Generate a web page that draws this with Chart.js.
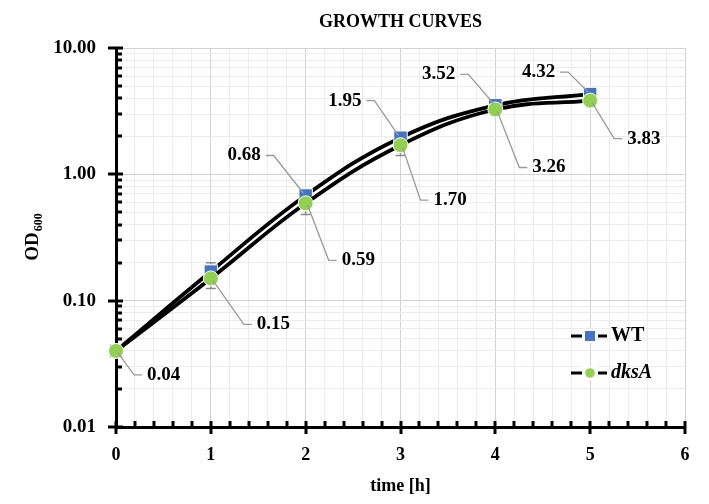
<!DOCTYPE html>
<html lang="en">
<head>
<meta charset="UTF-8">
<title>Growth curves</title>
<script src="https://cdn.jsdelivr.net/npm/chart.js"></script>
<style>
  html, body { margin: 0; padding: 0; background: #fff; }
</style>
</head>
<body>
<canvas id="growthChart" width="709" height="504"></canvas>
<script>
// data
const hours = [0, 1, 2, 3, 4, 5];
const wtOD = [0.04, 0.17, 0.68, 1.95, 3.52, 4.32];
const dksaOD = [0.04, 0.15, 0.59, 1.70, 3.26, 3.83];
const wtErr = [0.002, 0.03, 0.04, 0.10, 0.15, 0.15];
const dksaErr = [0.002, 0.025, 0.11, 0.29, 0.15, 0.15];
const yLabelTicks = [0.01, 0.1, 1, 10];
const xLabelTicks = [0, 1, 2, 3, 4, 5, 6];

const SERIF = "'Liberation Serif', 'Times New Roman', serif";

function isDecade(v) {
    return yLabelTicks.some(d => Math.abs(d - v) < d * 1e-6);
}

// error bars, data labels, axis tick marks, titles and legend
const decor = {
    id: 'decor',
    beforeDatasetsDraw(chart) {
        const ctx = chart.ctx;
        const a = chart.chartArea;
        const xs = chart.scales.x, ys = chart.scales.y;
        ctx.save();

        // axis tick marks (under the markers)
        ctx.fillStyle = '#000';
        ys.ticks.forEach(t => {
            const py = Math.round(ys.getPixelForValue(t.value));
            if (isDecade(t.value)) ctx.fillRect(a.left - 8, py - 1.5, 15, 3);
            else ctx.fillRect(a.left, py - 1.5, 6, 3);
        });
        xs.ticks.forEach(t => {
            const px = Math.round(xs.getPixelForValue(t.value));
            if (Number.isInteger(t.value)) ctx.fillRect(px - 1.5, a.bottom - 6, 3, 13);
            else ctx.fillRect(px - 1.5, a.bottom - 6, 3, 6);
        });

        // error bars
        ctx.strokeStyle = '#8c8c8c';
        ctx.lineWidth = 1.5;
        chart.data.datasets.forEach((ds, di) => {
            const meta = chart.getDatasetMeta(di);
            ds.err.forEach((e, i) => {
                const p = meta.data[i];
                const v = ds.data[i].y;
                const top = ys.getPixelForValue(v + e);
                const bot = ys.getPixelForValue(v - e);
                ctx.beginPath();
                ctx.moveTo(p.x, top); ctx.lineTo(p.x, bot);
                ctx.moveTo(p.x - 5, top); ctx.lineTo(p.x + 5, top);
                ctx.moveTo(p.x - 5, bot); ctx.lineTo(p.x + 5, bot);
                ctx.stroke();
            });
        });
        ctx.restore();
    },
    afterDatasetsDraw(chart, args, opts) {
        const ctx = chart.ctx;
        ctx.save();
        ctx.font = 'bold 19px ' + SERIF;
        ctx.fillStyle = '#000';
        ctx.textBaseline = 'middle';
        chart.data.datasets.forEach((ds, di) => {
            const meta = chart.getDatasetMeta(di);
            const offs = opts.labelOffsets[ds.label];
            ds.data.forEach((d, i) => {
                const o = offs[i];
                if (!o) return;
                const p = meta.data[i];
                const lx = p.x + o[0], ly = p.y + o[1];
                const txt = d.y.toFixed(2);
                ctx.strokeStyle = '#9a9a9a';
                ctx.lineWidth = 1.3;
                ctx.beginPath();
                if (o[0] < 0) {
                    ctx.textAlign = 'right';
                    ctx.moveTo(lx + 5, ly); ctx.lineTo(lx + 13, ly); ctx.lineTo(p.x - 2, p.y - 2);
                } else {
                    ctx.textAlign = 'left';
                    ctx.moveTo(lx - 5, ly); ctx.lineTo(lx - 13, ly); ctx.lineTo(p.x + 2, p.y + 2);
                }
                ctx.stroke();
                ctx.fillText(txt, lx, ly);
            });
        });
        ctx.restore();
    },
    afterDraw(chart) {
        const ctx = chart.ctx;
        const a = chart.chartArea;
        ctx.save();
        ctx.fillStyle = '#000';

        // title
        const cx = (a.left + a.right) / 2;
        ctx.textAlign = 'center';
        ctx.textBaseline = 'middle';
        ctx.font = 'bold 18px ' + SERIF;
        ctx.fillText('GROWTH CURVES', cx, 22);

        // x axis title
        ctx.font = 'bold 18px ' + SERIF;
        ctx.fillText('time [h]', cx, 486);

        // y axis title OD600
        ctx.save();
        ctx.translate(33, (a.top + a.bottom) / 2);
        ctx.rotate(-Math.PI / 2);
        ctx.font = 'bold 19px ' + SERIF;
        const w1 = ctx.measureText('OD').width;
        ctx.font = 'bold 12px ' + SERIF;
        const w2 = ctx.measureText('600').width;
        const start = -(w1 + w2) / 2;
        ctx.textAlign = 'left';
        ctx.font = 'bold 19px ' + SERIF;
        ctx.fillText('OD', start, 0);
        ctx.font = 'bold 12px ' + SERIF;
        ctx.fillText('600', start + w1 + 1, 6);
        ctx.restore();

        // legend
        const rows = [
            { name: 'WT', y: 336, italic: false },
            { name: 'dksA', y: 373, italic: true }
        ];
        rows.forEach((r, i) => {
            const ds = chart.data.datasets[i === 0 ? 1 : 0];
            ctx.fillStyle = '#000';
            ctx.fillRect(571, r.y - 1.5, 36, 3);
            ctx.fillStyle = '#fff';
            ctx.fillRect(582, r.y - 7, 16, 14);
            ctx.fillStyle = ds.pointBackgroundColor;
            if (ds.pointStyle === 'rect') ctx.fillRect(585, r.y - 5, 10, 10);
            else { ctx.beginPath(); ctx.arc(590, r.y, 4.8, 0, Math.PI * 2); ctx.fill(); }
            ctx.fillStyle = '#000';
            ctx.textAlign = 'left';
            ctx.font = (r.italic ? 'italic ' : '') + 'bold 20px ' + SERIF;
            ctx.fillText(r.name, 611, r.y);
        });
        ctx.restore();
    }
};

const xGrid = [];
for (let i = 0; i <= 30; i++) xGrid.push(Math.round(i * 2) / 10);

new Chart(document.getElementById('growthChart'), {
    type: 'line',
    data: {
        datasets: [
            {
                label: 'dksA',
                data: hours.map((h, i) => ({ x: h, y: dksaOD[i] })),
                err: dksaErr,
                order: 0,
                clip: false,
                borderColor: '#000',
                borderWidth: 3.8,
                tension: 0.4,
                pointStyle: 'circle',
                pointRadius: 7.5,
                pointBackgroundColor: '#92D050',
                pointBorderColor: '#fff',
                pointBorderWidth: 1
            },
            {
                label: 'WT',
                data: hours.map((h, i) => ({ x: h, y: wtOD[i] })),
                err: wtErr,
                order: 1,
                clip: false,
                borderColor: '#000',
                borderWidth: 3.8,
                tension: 0.4,
                pointStyle: 'rect',
                pointRadius: 9.5,
                pointBackgroundColor: '#4472C4',
                pointBorderColor: '#fff',
                pointBorderWidth: 1
            }
        ]
    },
    options: {
        responsive: false,
        animation: false,
        layout: { padding: { left: 0, top: 48, right: 24, bottom: 0 } },
        scales: {
            x: {
                type: 'linear',
                min: 0, max: 6,
                afterBuildTicks: s => { s.ticks = xGrid.map(v => ({ value: v })); },
                afterFit: s => { s.height = 77; },
                grid: {
                    drawTicks: false,
                    color: c => Number.isInteger(c.tick.value) ? '#d2d2d2' : '#ececec'
                },
                border: { color: '#000', width: 3 },
                ticks: {
                    autoSkip: false,
                    maxRotation: 0,
                    padding: 18,
                    color: '#000',
                    font: { family: SERIF, size: 18, weight: 'bold' },
                    callback: v => xLabelTicks.includes(v) ? String(v) : ''
                }
            },
            y: {
                type: 'logarithmic',
                min: 0.01, max: 10,
                afterBuildTicks: s => {
                    const t = [];
                    [0.01, 0.1, 1].forEach(d => {
                        for (let k = 1; k < 10; k++) t.push({ value: +(d * k).toPrecision(3) });
                    });
                    t.push({ value: 10 });
                    s.ticks = t;
                },
                afterFit: s => { s.width = 116; },
                grid: {
                    drawTicks: false,
                    color: c => isDecade(c.tick.value) ? '#d2d2d2' : '#ececec'
                },
                border: { color: '#000', width: 3 },
                ticks: {
                    autoSkip: false,
                    padding: 20,
                    color: '#000',
                    font: { family: SERIF, size: 19, weight: 'bold' },
                    callback: v => isDecade(v) ? v.toFixed(2) : ''
                }
            }
        },
        plugins: {
            legend: { display: false },
            tooltip: { enabled: false },
            decor: {
                labelOffsets: {
                    WT: [null, null, [-45, -40], [-39, -37], [-40, -31], [-35, -22]],
                    dksA: [[31, 24], [46, 46], [36, 57], [33, 55], [37, 58], [37, 38]]
                }
            }
        }
    },
    plugins: [decor]
});
</script>
</body>
</html>
